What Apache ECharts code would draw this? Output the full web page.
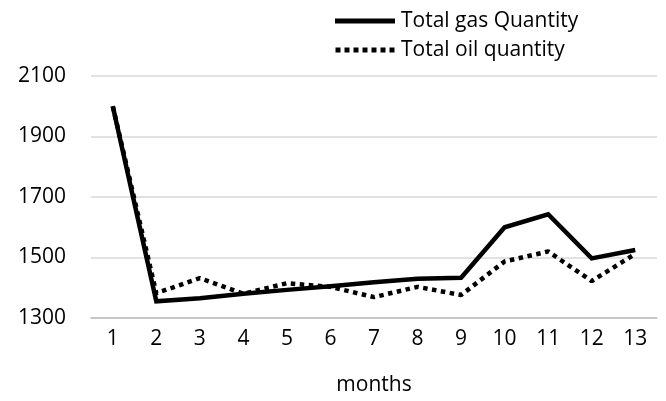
<!DOCTYPE html>
<html><head><meta charset="utf-8">
<script src="https://cdn.jsdelivr.net/npm/echarts@6/dist/echarts.min.js"></script>
<style>html,body{margin:0;padding:0;background:#fff}#c{width:666px;height:401px}</style>
</head><body><div id="c"></div>
<script>
var months = ['1','2','3','4','5','6','7','8','9','10','11','12','13'];
var gasQuantity = [2000, 1355, 1365, 1380, 1393, 1405, 1418, 1430, 1433, 1600, 1643, 1497, 1525];
var oilQuantity = [2000, 1382, 1432, 1380, 1415, 1403, 1369, 1403, 1376, 1487, 1520, 1422, 1512];
var yTicks = {min: 1300, max: 2100, interval: 200};
var seriesNames = ['Total gas Quantity', 'Total oil quantity'];
var font = 'Open Sans';
var solidIcon = 'path://M0,0H60V5H0Z';
var dotIcon = 'path://M0,0h5v5h-5z M9,0h5v5h-5z M18,0h5v5h-5z M27,0h5v5h-5z M36,0h5v5h-5z M45,0h5v5h-5z M54,0h5v5h-5z';
var chart = echarts.init(document.getElementById('c'));
chart.setOption({
  animation: false,
  textStyle: {fontFamily: font},
  grid: {left: 91, right: 9, top: 76, bottom: 83},
  legend: {
    orient: 'vertical', left: 330, top: 5, itemGap: 7,
    itemWidth: 62, itemHeight: 5,
    itemStyle: {color: '#000', borderWidth: 0},
    lineStyle: {width: 0},
    textStyle: {fontSize: 21, color: '#000', fontFamily: font, lineHeight: 22},
    data: [{name: seriesNames[0], icon: solidIcon}, {name: seriesNames[1], icon: dotIcon}]
  },
  xAxis: {
    type: 'category', data: months, boundaryGap: true,
    name: 'months', nameLocation: 'middle', nameGap: 57,
    nameTextStyle: {fontSize: 21, color: '#000'},
    axisLine: {lineStyle: {color: '#bfbfbf', width: 1.5}},
    axisTick: {show: false},
    axisLabel: {fontSize: 21, color: '#000', margin: 11}
  },
  yAxis: {
    type: 'value', min: yTicks.min, max: yTicks.max, interval: yTicks.interval,
    axisLine: {show: false}, axisTick: {show: false},
    axisLabel: {fontSize: 21, color: '#000', margin: 25, formatter: function (v) { return String(v); }},
    splitLine: {lineStyle: {color: '#d9d9d9', width: 1.5}}
  },
  series: [
    {name: seriesNames[0], type: 'line', data: gasQuantity, symbol: 'none',
     lineStyle: {color: '#000', width: 4.5, join: 'miter'}, itemStyle: {color: '#000'}},
    {name: seriesNames[1], type: 'line', data: oilQuantity, symbol: 'none',
     lineStyle: {color: '#000', width: 4.5, type: [4.5, 4.5], cap: 'butt'}, itemStyle: {color: '#000'}}
  ]
});
</script></body></html>
